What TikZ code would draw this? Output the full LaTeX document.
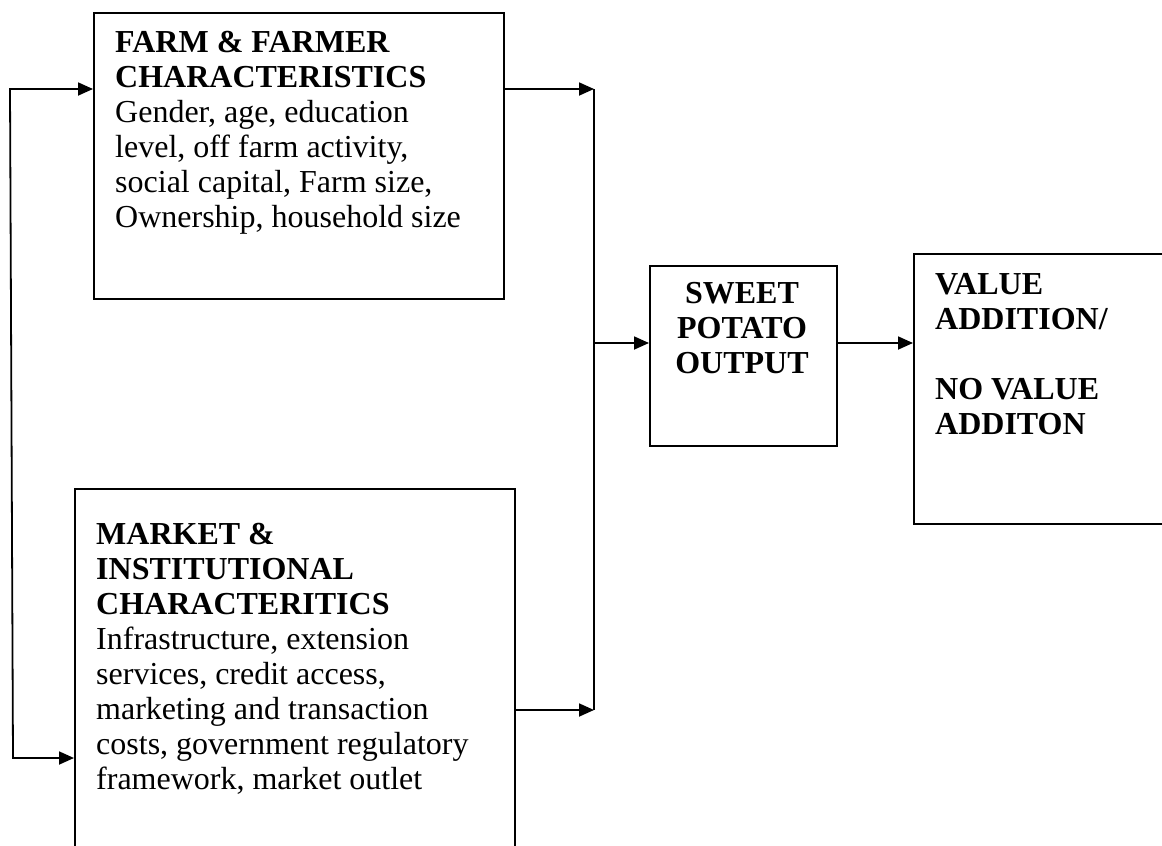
\documentclass[tikz,border=0pt]{standalone}
\usepackage{fontspec}
\setmainfont{Liberation Serif}
\usetikzlibrary{arrows.meta}
\begin{document}
\begin{tikzpicture}[x=1pt,y=-1pt,
  boxst/.style={draw=black,line width=1.6pt,minimum width=#1,inner sep=0pt,anchor=north west},
  txt/.style={anchor=base west,inner sep=0pt,font=\fontsize{32}{35}\selectfont},
  ctxt/.style={anchor=base,inner sep=0pt,font=\fontsize{32}{35}\selectfont\bfseries},
  conn/.style={line width=1.8pt,-{Triangle[length=15pt,width=13pt]}},
  plain/.style={line width=1.8pt}]
\useasboundingbox (0,0) rectangle (1162,846);
\clip (0,0) rectangle (1162,846);
% boxes
\node[boxst=410pt,minimum height=286pt] (farm) at (93,12) {};
\node[boxst=440pt,minimum height=380pt] (market) at (74,488) {};
\node[boxst=187pt,minimum height=180pt] (sweet) at (649,265) {};
\node[boxst=280pt,minimum height=270pt] (value) at (913,253) {};
% texts
\node[txt] (farmtxt) at (115,52) {\parbox[t]{400pt}{\raggedright\textbf{FARM \& FARMER}\\\textbf{CHARACTERISTICS}\\Gender, age, education\\level, off farm activity,\\social capital, Farm size,\\Ownership, household size}};
\node[txt] (markettxt) at (96,544) {\parbox[t]{420pt}{\raggedright\textbf{MARKET \&}\\\textbf{INSTITUTIONAL}\\\textbf{CHARACTERITICS}\\Infrastructure, extension\\services, credit access,\\marketing and transaction\\costs, government regulatory\\framework, market outlet}};
\node[ctxt] (sweettxt) at (742,303) {\parbox[t]{180pt}{\centering SWEET\\POTATO\\OUTPUT}};
\node[txt] (valuetxt) at (935,294) {\parbox[t]{220pt}{\raggedright\bfseries VALUE\\ADDITION/\\\mbox{}\\NO VALUE\\ADDITON}};
% connector coordinates
\coordinate (lt) at (10,89);
\coordinate (lb) at (13,758);
\coordinate (jt) at (594,89);
\coordinate (jb) at (594,710);
\coordinate (jm) at (594,343);
% connectors
\draw[line width=1.8pt,{Triangle[length=15pt,width=13pt]}-{Triangle[length=15pt,width=13pt]}]
  (farm.west |- lt) -- (lt) -- (lb) -- (market.west |- lb);
\draw[conn] (farm.east |- jt) -- (jt);
\draw[conn] (market.east |- jb) -- (jb);
\draw[plain] (jt) -- (jb);
\draw[conn] (jm) -- (sweet.west |- jm);
\draw[conn] (sweet.east |- jm) -- (value.west |- jm);
\end{tikzpicture}
\end{document}
